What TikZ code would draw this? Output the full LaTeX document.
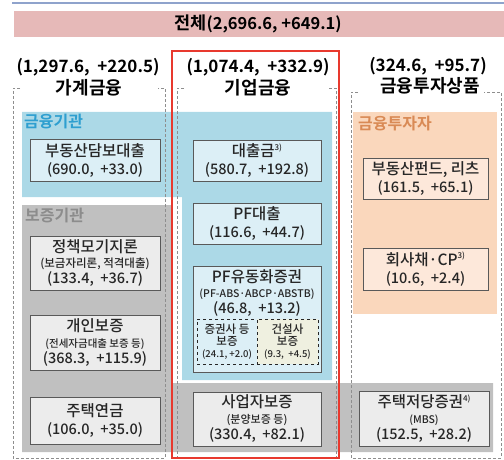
\documentclass[tikz,border=0pt]{standalone}
\usepackage{fontspec}
\setmainfont{Noto Sans CJK KR Medium}[BoldFont={Noto Sans CJK KR Bold}]
\definecolor{topline}{HTML}{8FA3CC}
\definecolor{titlebg}{HTML}{E6B9B8}
\definecolor{bluereg}{HTML}{ACD9E7}
\definecolor{bluebox}{HTML}{DCEFF6}
\definecolor{grayreg}{HTML}{C0C0C0}
\definecolor{graybox}{HTML}{ECECEC}
\definecolor{orgreg}{HTML}{FAD7BC}
\definecolor{orgbox}{HTML}{FDE8DA}
\definecolor{ylwbox}{HTML}{EFF0E0}
\definecolor{bluelbl}{HTML}{2E9FD0}
\definecolor{graylbl}{HTML}{8C8C8C}
\definecolor{orglbl}{HTML}{D98A55}
\definecolor{redline}{HTML}{E8392E}
\definecolor{dashgray}{HTML}{8E8E8E}
\definecolor{boxline}{HTML}{595959}
\definecolor{txt}{HTML}{262626}
\newcommand{\sz}[2]{{\fontsize{#1}{#1}\selectfont #2}}
\newcommand{\hg}[1]{{\fontsize{15.5}{15.5}\selectfont #1}}
\newcommand{\supn}[1]{\raisebox{0.45em}{\fontsize{8}{8}\selectfont #1}}
\newcommand{\subfnt}{\fontsize{11.5}{11.8}\selectfont\lineskiplimit=-20pt\relax}
\tikzset{
  cell/.style={draw=boxline, line width=0.8pt, align=center, inner sep=0pt, text=txt},
  cellA/.style={cell, font=\fontsize{14.5}{18}\selectfont},
  cellB/.style={cell, font=\fontsize{14.5}{16}\selectfont},
  subcell/.style={draw=txt, line width=0.8pt, dashed, align=center, inner sep=0pt, text=txt, font=\subfnt},
  head/.style={font=\fontsize{17}{17}\selectfont\bfseries, text=black, inner sep=0pt},
  reglbl/.style={font=\fontsize{16}{16}\selectfont\bfseries, inner sep=0pt, anchor=west},
  coldash/.style={draw=dashgray, line width=0.7pt, dash pattern=on 3pt off 2pt},
}
\begin{document}
\begin{tikzpicture}[x=1pt,y=-1pt]
\useasboundingbox (0,0) rectangle (504,460);
% top rule and title
\draw[topline, line width=1.5pt] (12,3) -- (504,3);
\fill[titlebg] (14,11) rectangle (504,37);
\node[head, font=\fontsize{16.5}{16.5}\selectfont\bfseries] (total) at (258,24) {{\fontsize{17.5}{17.5}\selectfont 전체}(2,696.6,~+649.1)};
% regions
\fill[bluereg] (22,112) -- (332,112) -- (332,380) -- (182,380) -- (182,197) -- (22,197) -- cycle;
\fill[grayreg] (22,205) -- (172,205) -- (172,383) -- (493,383) -- (493,452) -- (22,452) -- cycle;
\fill[orgreg] (353,112) rectangle (497,314);
% column frames
\draw[coldash] (20,88) -| (13,458) -| (165,88) -- (158,88);
\draw[coldash] (184,88) -| (177,458) -| (336,88) -- (329,88);
\draw[coldash] (358,92) -| (351,458) -| (501,92) -- (484,92);
\draw[redline, line width=1.3pt] (172,51) rectangle (339,458);
% headers
\node[head] (hhval) at (88,67) {(1,297.6,~~+220.5)};
\node[head, font=\fontsize{18}{18}\selectfont\bfseries] (hh) at (89,88) {가계금융};
\node[head] (chval) at (258,67) {(1,074.4,~~+332.9)};
\node[head, font=\fontsize{18}{18}\selectfont\bfseries] (ch) at (258,88) {기업금융};
\node[head] (ihval) at (428,66) {(324.6,~~+95.7)};
\node[head, font=\fontsize{18}{18}\selectfont\bfseries] (ih) at (430,86) {금융투자상품};
% region labels
\node[reglbl, text=bluelbl] (lblfin) at (24,122) {금융기관};
\node[reglbl, text=graylbl] (lblgua) at (25,216) {보증기관};
\node[reglbl, text=orglbl] (lblinv) at (358,124) {금융투자자};
% household boxes
\node[cellA, fill=bluebox, minimum width=130pt, minimum height=42pt] (b1) at (95,160) {\hg{부동산담보대출}\\(690.0,~~+33.0)};
\node[cellB, fill=graybox, minimum width=130pt, minimum height=54pt] (b2) at (95,263) {\hg{정책모기지론}\\\sz{11.5}{(보금자리론, 적격대출)}\\(133.4,~~+36.7)};
\node[cellB, fill=graybox, minimum width=130pt, minimum height=55pt] (b3) at (95,342.5) {\hg{개인보증}\\\sz{10.5}{(전세자금대출 보증 등)}\\(368.3,~~+115.9)};
\node[cellA, fill=graybox, minimum width=130pt, minimum height=47pt] (b4) at (95,420.5) {\hg{주택연금}\\(106.0,~~+35.0)};
% corporate boxes
\node[cellA, fill=bluebox, minimum width=128pt, minimum height=41pt] (b5) at (257,160.5) {\hg{대출금}\supn{3)}\\(580.7,~~+192.8)};
\node[cellA, fill=bluebox, minimum width=128pt, minimum height=41pt] (b6) at (257,223.5) {\hg{PF대출}\\(116.6,~~+44.7)};
\node[cell, fill=bluebox, minimum width=128pt, minimum height=106pt] (b7) at (257,319) {};
\node[align=center, inner sep=0pt, text=txt, font=\fontsize{14.5}{15.5}\selectfont] (b7t) at (257,293) {\hg{PF유동화증권}\\\sz{10.5}{(PF-ABS·ABCP·ABSTB)}\\(46.8,~~+13.2)};
\node[subcell, fill=bluebox, minimum width=60pt, minimum height=45pt] (b7a) at (227,341.5) {증권사 등\\보증\\\sz{9.5}{(24.1,~+2.0)}};
\node[subcell, fill=ylwbox, minimum width=61pt, minimum height=45pt] (b7b) at (287.5,341.5) {건설사\\보증\\\sz{9.5}{(9.3,~~+4.5)}};
\node[cellB, fill=graybox, minimum width=128pt, minimum height=54pt] (b8) at (257,419) {\hg{사업자보증}\\\sz{11}{(분양보증 등)}\\(330.4,~~+82.1)};
% investment product boxes
\node[cellA, fill=orgbox, minimum width=125pt, minimum height=41pt] (b9) at (425.5,178.5) {\hg{부동산펀드, 리츠}\\(161.5,~~+65.1)};
\node[cellA, fill=orgbox, minimum width=125pt, minimum height=42pt] (b10) at (425.5,269) {\hg{회사채·CP}\supn{3)}\\(10.6,~~+2.4)};
\node[cellB, fill=graybox, minimum width=130pt, minimum height=55pt] (b11) at (424,418.5) {\hg{주택저당증권}\supn{4)}\\\sz{10.5}{(MBS)}\\(152.5,~~+28.2)};
\end{tikzpicture}
\end{document}
